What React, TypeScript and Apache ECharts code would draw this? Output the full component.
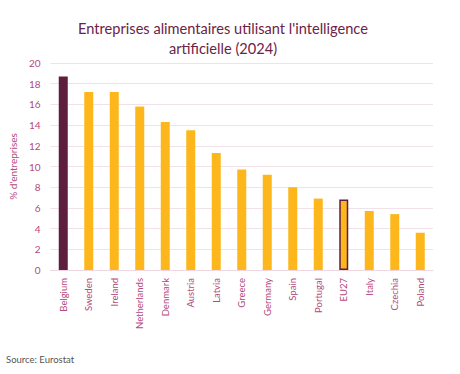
import React, { useEffect, useRef } from "react";
import * as echarts from "echarts";

const categories = ["Belgium", "Sweden", "Ireland", "Netherlands", "Denmark", "Austria", "Latvia", "Greece", "Germany", "Spain", "Portugal", "EU27", "Italy", "Czechia", "Poland"];
const values = [18.7, 17.2, 17.2, 15.8, 14.3, 13.5, 11.3, 9.7, 9.2, 8.0, 6.9, 6.8, 5.7, 5.4, 3.6];
const yTicks = { min: 0, max: 20, interval: 2 };
const title = "Entreprises alimentaires utilisant l'intelligence\nartificielle (2024)";
const yName = "% d'entreprises";
const source = "Source: Eurostat";

const GOLD = "#FDB71D";
const MAROON = "#5E1F3F";
const PINK = "#B24A7C";

export default function App() {
  const ref = useRef<HTMLDivElement>(null);
  useEffect(() => {
    document.body.style.margin = "0";
    if (!ref.current) return;
    const chart = echarts.init(ref.current, undefined, { renderer: "svg" });
    const data = values.map((v, i) => {
      const c = categories[i];
      if (c === "Belgium") return { value: v, itemStyle: { color: MAROON } };
      if (c === "EU27") return { value: v, itemStyle: { color: GOLD, borderColor: MAROON, borderWidth: 1.5 } };
      return { value: v, itemStyle: { color: GOLD } };
    });
    chart.setOption({
      animation: false,
      backgroundColor: "#ffffff",
      title: {
        text: title,
        left: 218,
        textAlign: "center",
        top: 13,
        textStyle: { fontFamily: "Lato", fontSize: 14.6, fontWeight: "normal", color: "#6B2347", lineHeight: 20 },
      },
      graphic: [
        {
          type: "text",
          left: 6,
          top: 354,
          style: { text: source, fontFamily: "Lato", fontSize: 9.5, fill: "#555555" },
        },
      ],
      grid: { left: 40, right: 27, top: 63, bottom: 104 },
      xAxis: {
        type: "category",
        data: categories,
        axisLine: { show: true, lineStyle: { color: "#EFD7E2" } },
        axisTick: { show: false },
        axisLabel: { rotate: 90, color: PINK, fontFamily: "Lato", fontSize: 9.5, margin: 8, interval: 0 },
      },
      yAxis: {
        type: "value",
        min: yTicks.min,
        max: yTicks.max,
        interval: yTicks.interval,
        name: yName,
        nameLocation: "middle",
        nameGap: 26,
        nameRotate: 90,
        nameTextStyle: { color: PINK, fontFamily: "Lato", fontSize: 10 },
        axisLine: { show: false },
        axisTick: { show: false },
        axisLabel: { color: PINK, fontFamily: "Lato", fontSize: 10, margin: 10 },
        splitLine: { lineStyle: { color: "#F1E1E8", width: 1 } },
      },
      series: [
        {
          type: "bar",
          data,
          barWidth: 9,
        },
      ],
    });
    return () => chart.dispose();
  }, []);
  return <div ref={ref} style={{ width: 460, height: 374 }} />;
}
